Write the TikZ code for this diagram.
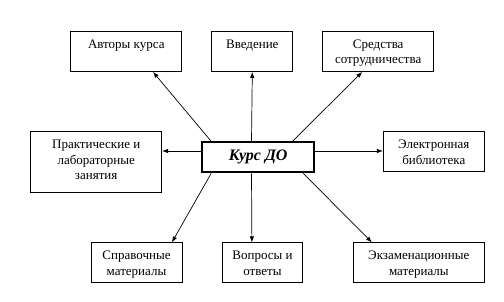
\documentclass[tikz,border=0pt]{standalone}
\usepackage{fontspec}
\setmainfont{Liberation Serif}
\usetikzlibrary{arrows.meta,calc}
\begin{document}
\begin{tikzpicture}[x=1pt,y=-1pt,
  box/.style={draw=black,line width=0.8pt,inner sep=0pt,minimum height=40pt},
  txt/.style={anchor=north,inner sep=0pt,yshift=-8.5pt,align=center,font=\fontsize{13}{15.5}\selectfont},
  hub/.style={draw=black,line width=2pt,inner sep=0pt,minimum width=112pt,minimum height=30pt,font=\fontsize{16}{18}\selectfont\bfseries\itshape},
  arr/.style={line width=0.7pt,-{Latex[length=6pt,width=4.5pt]}}]
\useasboundingbox[fill=white] (0,0) rectangle (504,302);
\node[hub] (K) at (258.2,157.3) {Курс ДО};
\node[box,minimum width=111pt,label={[txt]north:Авторы курса}] (A) at (126.3,51.5) {};
\node[box,minimum width=81pt,label={[txt]north:Введение}] (B) at (252.3,51.5) {};
\node[box,minimum width=111pt,label={[txt]north:Средства\\сотрудничества}] (C) at (378.2,51.5) {};
\node[box,minimum width=131pt,minimum height=60.6pt,label={[txt]north:Практические и\\лабораторные\\занятия}] (P) at (96.2,162) {};
\node[box,minimum width=101pt,label={[txt]north:Электронная\\библиотека}] (E) at (433.8,151.9) {};
\node[box,minimum width=91pt,label={[txt]north:Справочные\\материалы}] (S) at (136.5,262.8) {};
\node[box,minimum width=80.4pt,label={[txt]north:Вопросы и\\ответы}] (V) at (262.5,262.8) {};
\node[box,minimum width=131pt,label={[txt]north:Экзаменационные\\материалы}] (X) at (418.8,262.8) {};
\draw[arr] ($(K.north west)+(10,0)$) -- ($(A.south west)+(82.6,0)$);
\draw[arr] ($(K.north west)+(50.3,0)$) -- (B.south);
\draw[arr] ($(K.north west)+(91.3,0)$) -- ($(C.south west)+(40,0)$);
\draw[arr] ($(K.west)+(0,-6.3)$) -- (P.east |- {$(K.west)+(0,-6.3)$});
\draw[arr] ($(K.east)+(0,-6.3)$) -- (E.west |- {$(K.east)+(0,-6.3)$});
\draw[arr] ($(K.south west)+(10,0)$) -- ($(S.north west)+(81.3,0)$);
\draw[arr] ($(K.south west)+(50.3,0)$) -- ($(V.north west)+(30,0)$);
\draw[arr] ($(K.south west)+(102,0)$) -- ($(X.north west)+(19,0)$);
\end{tikzpicture}
\end{document}
